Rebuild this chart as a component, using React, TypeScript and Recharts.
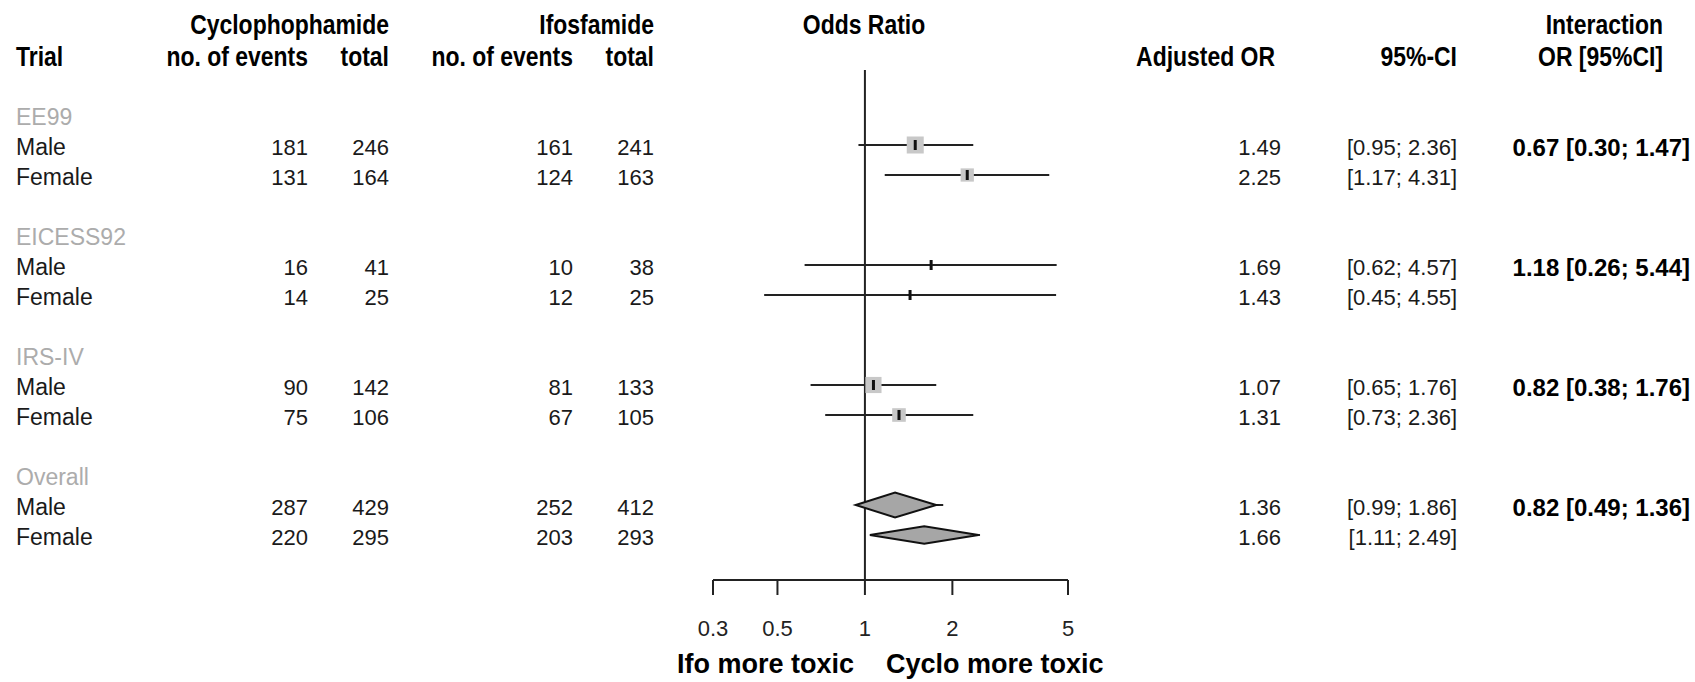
import React from "react";
import { ComposedChart, XAxis, YAxis, Scatter, ReferenceLine } from "recharts";

const trials = ["EE99", "EICESS92", "IRS-IV", "Overall"];
const sexes = ["Male", "Female"];
const cycloEvents = [181, 131, 16, 14, 90, 75, 287, 220];
const cycloTotal = [246, 164, 41, 25, 142, 106, 429, 295];
const ifoEvents = [161, 124, 10, 12, 81, 67, 252, 203];
const ifoTotal = [241, 163, 38, 25, 133, 105, 412, 293];
const adjustedOR = [1.49, 2.25, 1.69, 1.43, 1.07, 1.31, 1.36, 1.66];
const ciLower = [0.95, 1.17, 0.62, 0.45, 0.65, 0.73, 0.99, 1.11];
const ciUpper = [2.36, 4.31, 4.57, 4.55, 1.76, 2.36, 1.86, 2.49];
// relative weight of the study rows (grey boxes), overall rows have none
const studyWeight = [1, 0.78, 0.12, 0.12, 0.95, 0.8];
// overall diamonds as drawn: left tip, centre, right tip
const diamondLeft = [0.93, 1.04];
const diamondMid = [1.27, 1.6];
const diamondRight = [1.76, 2.46];
const diamondWeight = [1, 0.7];
const interaction = ["0.67 [0.30; 1.47]", "1.18 [0.26; 5.44]", "0.82 [0.38; 1.76]", "0.82 [0.49; 1.36]"];
const xTicks = [0.3, 0.5, 1, 2, 5];

const W = 1695;
const H = 682;
const SANS = "'Liberation Sans', Arial, sans-serif";

// group header on row 4g, male/female on the two rows below it
const rowOf = (k: number) => 4 * Math.floor(k / 2) + 1 + (k % 2);

const groupRows = trials.map((t, g) => ({ x: 1, y: 4 * g, kind: "group", label: t }));
const entryRows = adjustedOR.map((or, k) => ({
  x: 1,
  y: rowOf(k),
  kind: "entry",
  label: sexes[k % 2],
  ce: cycloEvents[k],
  ct: cycloTotal[k],
  ie: ifoEvents[k],
  it: ifoTotal[k],
  or: or.toFixed(2),
  ci: `[${ciLower[k].toFixed(2)}; ${ciUpper[k].toFixed(2)}]`,
  inter: k % 2 === 0 ? interaction[k / 2] : ""
}));
const tableRows = [...groupRows, ...entryRows];
const boxes = studyWeight.map((w, k) => ({ x: adjustedOR[k], y: rowOf(k), w }));

const TableRow = (p: any) => {
  const d = p.payload;
  const y = p.cy + 2;
  const num = { dominantBaseline: "central" as const, fontFamily: SANS, fontSize: 22 };
  const lab = { dominantBaseline: "central" as const, fontFamily: SANS, fontSize: 23 };
  if (d.kind === "group") {
    return (
      <text x={16} y={y} fill="#acacac" {...lab}>
        {d.label}
      </text>
    );
  }
  return (
    <g fill="#1a1a1a">
      <text x={16} y={y} {...lab}>{d.label}</text>
      <text x={308} y={y} textAnchor="end" {...num}>{d.ce}</text>
      <text x={389} y={y} textAnchor="end" {...num}>{d.ct}</text>
      <text x={573} y={y} textAnchor="end" {...num}>{d.ie}</text>
      <text x={654} y={y} textAnchor="end" {...num}>{d.it}</text>
      <text x={1281} y={y} textAnchor="end" {...num}>{d.or}</text>
      <text x={1457} y={y} textAnchor="end" {...num}>{d.ci}</text>
      {d.inter ? (
        <text x={1690} y={y} textAnchor="end" fontWeight="bold" fill="#000" {...num} fontSize={24}>
          {d.inter}
        </text>
      ) : null}
    </g>
  );
};

const Box = (p: any) => {
  const s = 17 * p.payload.w;
  return (
    <g>
      <rect x={p.cx - s / 2} y={p.cy - s / 2} width={s} height={s} fill="#c8c8c8" />
      <rect x={p.cx - 1.5} y={p.cy - 5} width={3} height={10} fill="#111" />
    </g>
  );
};

const AxisTick = (p: any) => (
  <text x={p.x} y={p.y + 31} textAnchor="middle" dominantBaseline="central" fontFamily={SANS} fontSize={22} fill="#222">
    {p.payload.value}
  </text>
);

const Nothing = () => <g />;

// condensed bold header text (no narrow font installed, so squeeze horizontally)
const Head = ({ x, y, anchor = "start", children }: any) => (
  <text
    transform={`translate(${x},${y}) scale(0.85,1)`}
    textAnchor={anchor}
    dominantBaseline="central"
    fontFamily={SANS}
    fontWeight="bold"
    fontSize={27}
    fill="#000"
  >
    {children}
  </text>
);

export default function App() {
  return (
    <div style={{ position: "absolute", left: 0, top: 0, width: W, height: H, background: "#fff" }}>
      <ComposedChart width={W} height={H} margin={{ top: 70, right: 627, bottom: 0, left: 713 }}>
        <XAxis
          type="number"
          dataKey="x"
          scale="log"
          domain={[0.3, 5]}
          ticks={xTicks}
          interval={0}
          height={102}
          tickSize={15}
          axisLine={{ stroke: "#222", strokeWidth: 2 }}
          tickLine={{ stroke: "#222", strokeWidth: 2 }}
          tick={<AxisTick />}
        />
        <YAxis type="number" dataKey="y" domain={[-1.5, 15.5]} tickCount={35} reversed hide width={0} />
        <ReferenceLine x={1} stroke="#222" strokeWidth={2} />
        {adjustedOR.map((_, k) => (
          <Scatter
            key={`ci${k}`}
            data={[
              { x: ciLower[k], y: rowOf(k) },
              { x: ciUpper[k], y: rowOf(k) }
            ]}
            line={{ stroke: "#222", strokeWidth: 2 }}
            shape={<Nothing />}
            isAnimationActive={false}
          />
        ))}
        <Scatter data={boxes} shape={<Box />} isAnimationActive={false} />
        {diamondMid.map((m, i) => (
          <Scatter
            key={`dia${i}`}
            data={[
              { x: diamondLeft[i], y: rowOf(6 + i) },
              { x: m, y: rowOf(6 + i) },
              { x: diamondRight[i], y: rowOf(6 + i) }
            ]}
            line={(lp: any) => {
              const [a, b, c] = lp.points;
              const h = 12.5 * diamondWeight[i];
              return (
                <polygon
                  points={`${a.x},${a.y} ${b.x},${b.y - h} ${c.x},${c.y} ${b.x},${b.y + h}`}
                  fill="#a6a6a6"
                  stroke="#111"
                  strokeWidth={2}
                />
              );
            }}
            shape={<Nothing />}
            isAnimationActive={false}
          />
        ))}
        <Scatter data={tableRows} shape={<TableRow />} isAnimationActive={false} />
      </ComposedChart>
      <svg width={W} height={H} style={{ position: "absolute", left: 0, top: 0, pointerEvents: "none" }}>
        <Head x={389} y={24} anchor="end">Cyclophophamide</Head>
        <Head x={654} y={24} anchor="end">Ifosfamide</Head>
        <Head x={864} y={24} anchor="middle">Odds Ratio</Head>
        <Head x={1663} y={24} anchor="end">Interaction</Head>
        <Head x={16} y={56}>Trial</Head>
        <Head x={308} y={56} anchor="end">no. of events</Head>
        <Head x={389} y={56} anchor="end">total</Head>
        <Head x={573} y={56} anchor="end">no. of events</Head>
        <Head x={654} y={56} anchor="end">total</Head>
        <Head x={1275} y={56} anchor="end">Adjusted OR</Head>
        <Head x={1457} y={56} anchor="end">95%-CI</Head>
        <Head x={1663} y={56} anchor="end">OR [95%CI]</Head>
        <text x={854} y={664} textAnchor="end" dominantBaseline="central" fontFamily={SANS} fontWeight="bold" fontSize={27}>
          Ifo more toxic
        </text>
        <text x={886} y={664} dominantBaseline="central" fontFamily={SANS} fontWeight="bold" fontSize={27}>
          Cyclo more toxic
        </text>
      </svg>
    </div>
  );
}
